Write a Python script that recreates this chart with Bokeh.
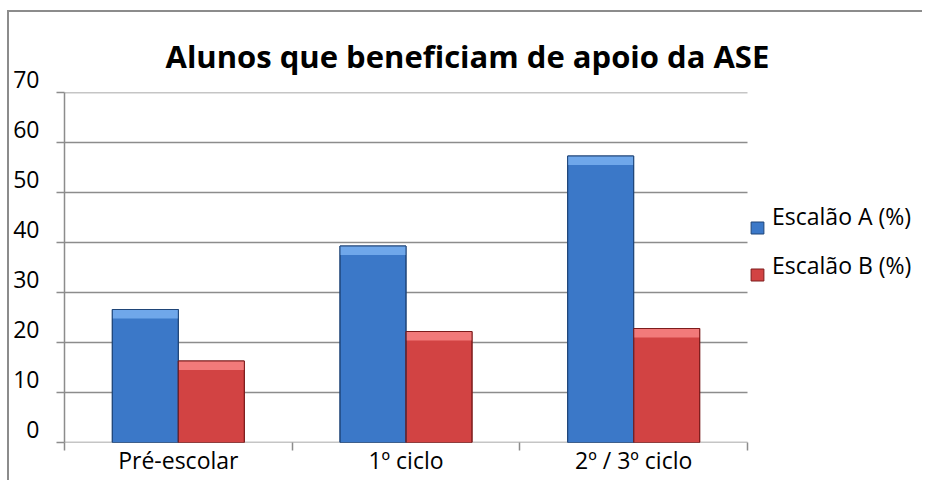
from bokeh.plotting import figure
from bokeh.models import FixedTicker, Legend, LegendItem, Range1d
from bokeh.embed import file_html
from bokeh.resources import INLINE

categories = ["Pré-escolar", "1º ciclo", "2º / 3º ciclo"]
escalao_a = [26.6, 39.3, 57.3]
escalao_b = [16.3, 22.2, 22.8]
y_ticks = [0, 10, 20, 30, 40, 50, 60, 70]
series_names = ["Escalão A (%)", "Escalão B (%)"]
title_text = "Alunos que beneficiam de apoio da ASE"

FONT = "Open Sans"
GRID = "#8c8c8c"
BLUE, BLUE_TOP, BLUE_EDGE = "#3b78c8", "#6fa7ea", "#1f4578"
RED, RED_TOP, RED_EDGE = "#d24343", "#f27a7a", "#7d1c1c"

# layout (pixels)
W, H = 915, 470
BL, BR, BT, BB = 55, 5, 80, 40
PLOT_W = 683              # width of the category area
FRAME_W = W - BL - BR

n = len(categories)
centers = [2 * i + 1 for i in range(n)]
bounds = [2 * i for i in range(n + 1)]
off, bw = 0.29, 0.58
xa = [c - off for c in centers]
xb = [c + off for c in centers]
x_end = 2 * n * FRAME_W / PLOT_W

p = figure(width=W, height=H, x_range=Range1d(0, x_end), y_range=Range1d(0, 70),
           output_backend="svg", toolbar_location=None,
           min_border_left=BL, min_border_right=BR, min_border_top=BT, min_border_bottom=BB)
p.styles = {"border-left": "2px solid #8c8c8c", "border-top": "2px solid #8c8c8c",
            "margin-top": "10px", "margin-left": "7px"}
p.outline_line_color = None
p.background_fill_color = "white"
p.border_fill_color = "white"

# title
p.title.text = title_text
p.title.align = "left"
p.title.offset = 101
p.title.standoff = 32
p.title.text_font = FONT
p.title.text_font_size = "31px"
p.title.text_font_style = "bold"
p.title.text_color = "black"

# gridlines only across the category area
p.xgrid.visible = False
p.ygrid.visible = False
p.segment(x0=[0] * len(y_ticks), x1=[2 * n] * len(y_ticks), y0=y_ticks, y1=y_ticks,
          line_color=GRID, line_width=1.5, level="underlay")

# bars
ra = p.vbar(x=xa, top=escalao_a, bottom=0, width=bw, fill_color=BLUE, line_color=BLUE_EDGE, line_width=1)
rb = p.vbar(x=xb, top=escalao_b, bottom=0, width=bw, fill_color=RED, line_color=RED_EDGE, line_width=1)
p.vbar(x=xa, top=escalao_a, bottom=[v - 1.8 for v in escalao_a], width=bw, fill_color=BLUE_TOP, line_color=None)
p.vbar(x=xb, top=escalao_b, bottom=[v - 1.8 for v in escalao_b], width=bw, fill_color=RED_TOP, line_color=None)
p.vbar(x=xa, top=escalao_a, bottom=0, width=bw, fill_color=None, line_color=BLUE_EDGE, line_width=1)
p.vbar(x=xb, top=escalao_b, bottom=0, width=bw, fill_color=None, line_color=RED_EDGE, line_width=1)

# y axis
ya = p.yaxis[0]
ya.ticker = FixedTicker(ticks=y_ticks)
ya.major_label_overrides = {v: f"{v}\n" for v in y_ticks}
ya.major_label_text_line_height = 0.85
ya.axis_line_color = GRID
ya.axis_line_width = 1.5
ya.major_tick_line_color = GRID
ya.major_tick_line_width = 1.5
ya.major_tick_out = 8
ya.major_tick_in = 0
ya.minor_tick_line_color = None
ya.major_label_standoff = 17
ya.major_label_text_font = FONT
ya.major_label_text_font_size = "23px"
ya.major_label_text_color = "black"

# x axis
xax = p.xaxis[0]
xax.ticker = FixedTicker(ticks=centers, minor_ticks=bounds)
xax.major_label_overrides = {c: name for c, name in zip(centers, categories)}
xax.axis_line_color = None
xax.major_tick_line_color = None
xax.major_tick_out = 0
xax.major_tick_in = 0
xax.minor_tick_line_color = GRID
xax.minor_tick_line_width = 1.5
xax.minor_tick_out = 8
xax.minor_tick_in = 0
xax.major_label_standoff = -7
xax.major_label_text_font = FONT
xax.major_label_text_font_size = "23px"
xax.major_label_text_color = "black"

# legend: swatches, and the texts set slightly higher (as in the original)
common = dict(orientation="vertical", spacing=17, label_height=30,
              label_text_font=FONT, label_text_font_size="23px", label_text_color="black",
              background_fill_alpha=0, border_line_color=None, padding=0, margin=0)
swatches = Legend(items=[LegendItem(label=" ", renderers=[ra]),
                         LegendItem(label=" ", renderers=[rb])],
                  location=(PLOT_W + 2, 153), glyph_width=16, glyph_height=15,
                  label_standoff=0, **common)
texts = Legend(items=[LegendItem(label=series_names[0], renderers=[]),
                      LegendItem(label=series_names[1], renderers=[])],
               location=(PLOT_W + 2 + 16 + 7, 161), glyph_width=0, glyph_height=15,
               label_standoff=0, **common)
p.add_layout(swatches, "center")
p.add_layout(texts, "center")

open("out.html", "w").write(file_html(p, INLINE))
